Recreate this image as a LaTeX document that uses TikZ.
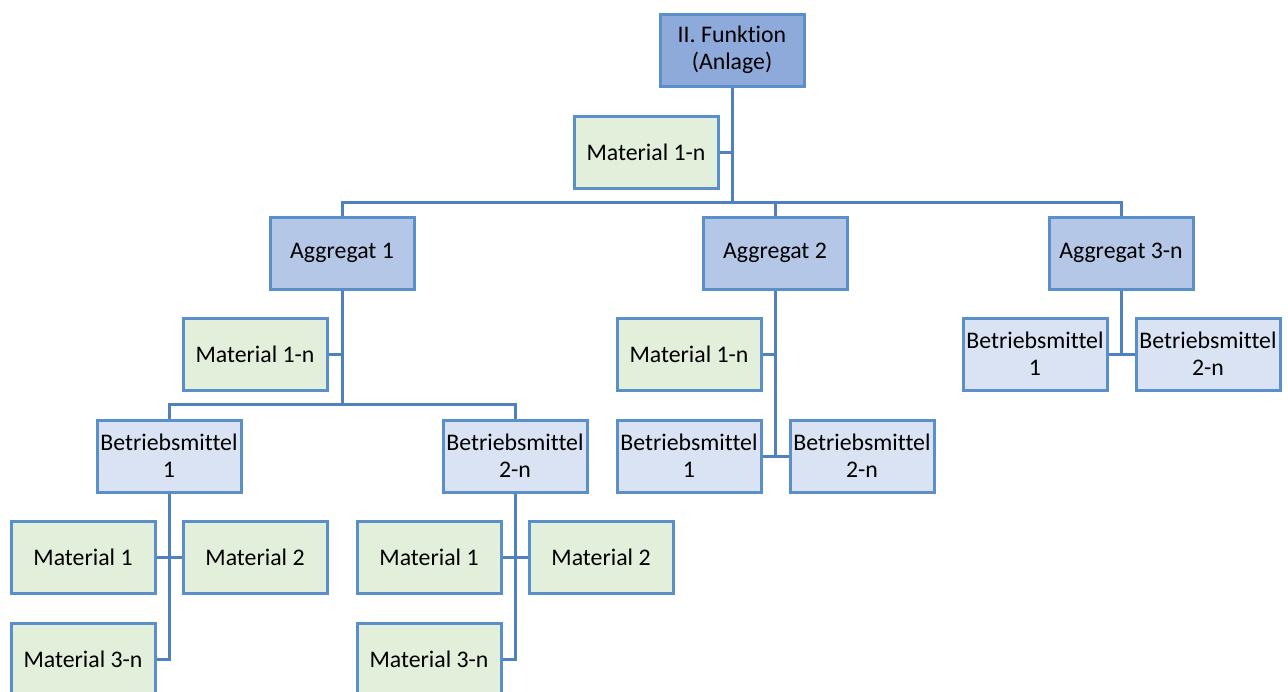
\documentclass[tikz,border=0pt]{standalone}
\usepackage{fontspec}
\setmainfont{Carlito}[RawFeature={-liga;-clig;-calt}]
\definecolor{topfill}{HTML}{8EAADB}
\definecolor{aggfill}{HTML}{B4C7E7}
\definecolor{bmfill}{HTML}{DAE3F3}
\definecolor{matfill}{HTML}{E2EFDA}
\definecolor{boxline}{HTML}{5B8FC9}
\definecolor{connline}{HTML}{4E81BD}
\tikzset{
  box/.style={draw=boxline, line width=3pt, minimum width=144pt, minimum height=72pt,
    inner sep=0pt, align=center, font=\fontsize{23.8}{27}\selectfont, text=black},
  topbox/.style={box, fill=topfill},
  aggbox/.style={box, fill=aggfill},
  bmbox/.style={box, fill=bmfill},
  matbox/.style={box, fill=matfill},
  conn/.style={draw=connline, line width=3pt}
}
\begin{document}
\begin{tikzpicture}[x=1pt,y=-1pt]
\useasboundingbox (0,0) rectangle (1288,691);
\clip (0,0) rectangle (1288,691);
% nodes
\node[topbox] (top) at (732,50) {II. Funktion\\(Anlage)};
\node[matbox] (m0) at (646,152) {Material 1-n};
\node[aggbox] (a1) at (342,253) {Aggregat 1};
\node[aggbox] (a2) at (775,253) {Aggregat 2};
\node[aggbox] (a3) at (1121,253) {Aggregat 3-n};
\node[matbox] (m1) at (255,354) {Material 1-n};
\node[bmbox] (bA) at (169,456) {Betriebsmittel\\1};
\node[bmbox] (bB) at (515,456) {Betriebsmittel\\2-n};
\node[matbox] (mA1) at (83,557) {Material 1};
\node[matbox] (mA2) at (255,557) {Material 2};
\node[matbox] (mA3) at (83,659) {Material 3-n};
\node[matbox] (mB1) at (429,557) {Material 1};
\node[matbox] (mB2) at (601,557) {Material 2};
\node[matbox] (mB3) at (429,659) {Material 3-n};
\node[matbox] (m2) at (689,354) {Material 1-n};
\node[bmbox] (c1) at (689,456) {Betriebsmittel\\1};
\node[bmbox] (c2) at (862,456) {Betriebsmittel\\2-n};
\node[bmbox] (d1) at (1035,354) {Betriebsmittel\\1};
\node[bmbox] (d2) at (1208,354) {Betriebsmittel\\2-n};
\coordinate (b1) at (732,202);
\coordinate (b2) at (342,404);
% connectors
\draw[conn] (top.south) -- (b1);
\draw[conn] (m0.east) -- (m0.east -| top.south);
\draw[conn] (a1.north) |- (b1) -| (a3.north);
\draw[conn] (a2.north) -- (a2.north |- b1);
\draw[conn] (a1.south) -- (b2);
\draw[conn] (m1.east) -- (m1.east -| a1.south);
\draw[conn] (bA.north) |- (b2) -| (bB.north);
\draw[conn] (bA.south) |- (mA3.east);
\draw[conn] (mA1.east) -- (mA2.west);
\draw[conn] (bB.south) |- (mB3.east);
\draw[conn] (mB1.east) -- (mB2.west);
\draw[conn] (a2.south) -- (a2.south |- c1.east);
\draw[conn] (m2.east) -- (m2.east -| a2.south);
\draw[conn] (c1.east) -- (c2.west);
\draw[conn] (a3.south) -- (a3.south |- d1.east);
\draw[conn] (d1.east) -- (d2.west);
\end{tikzpicture}
\end{document}
